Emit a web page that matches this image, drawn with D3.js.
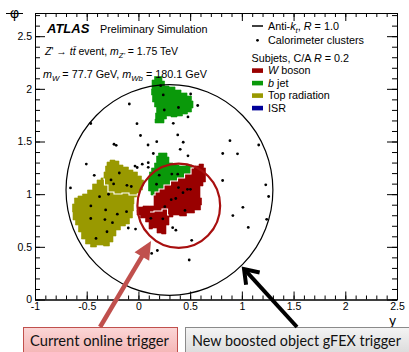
<!DOCTYPE html>
<html>
<head>
<meta charset="utf-8">
<script src="https://cdn.jsdelivr.net/npm/d3@7"></script>
<style>
  body { margin: 0; background: #fff; }
  svg { display: block; font-family: "Liberation Sans", Arial, sans-serif; }
</style>
</head>
<body>
<div id="chart"></div>
<script>
// axis ticks
const xTicks = [-1, -0.5, 0, 0.5, 1, 1.5, 2, 2.5];
const yTicks = [0, 0.5, 1, 1.5, 2, 2.5];

// calorimeter clusters [y, phi]
const clusters = [
  [-0.088, 1.856], [-0.461, 1.671], [-0.014, 1.669], [0.020, 1.557], [0.177, 1.498],
  [-0.236, 1.474], [-0.215, 1.464], [0.093, 1.467], [0.144, 1.386], [-0.504, 1.286],
  [-0.033, 1.267], [-0.012, 1.253], [0.037, 1.285], [0.095, 1.299], [0.095, 1.255],
  [-0.427, 1.179], [-0.657, 1.059], [-0.185, 1.201], [-0.265, 1.135], [-0.240, 1.097],
  [-0.111, 1.084], [-0.069, 1.073], [-0.289, 0.999], [-0.376, 0.976], [-0.460, 0.888],
  [-0.317, 0.850], [-0.204, 0.810], [-0.115, 0.834], [-0.461, 0.769], [-0.324, 0.759],
  [-0.251, 0.729], [-0.304, 0.643], [-0.410, 0.580], [-0.098, 0.679], [-0.028, 0.669],
  [0.201, 1.180], [0.323, 1.191], [0.380, 1.190], [0.175, 1.094],
  [0.387, 1.063], [0.474, 1.046], [0.503, 1.046], [0.431, 1.014], [0.317, 0.948],
  [0.361, 0.959], [0.255, 0.881], [0.450, 0.846], [0.120, 0.771], [0.236, 0.766],
  [0.331, 0.682], [0.362, 0.658], [0.515, 0.562],
  [0.215, 2.030], [0.240, 1.942], [0.505, 1.951], [0.573, 1.842], [0.250, 1.799],
  [0.387, 1.823], [0.337, 1.673], [0.380, 1.562], [0.479, 1.733], [0.433, 1.493],
  [0.404, 1.426], [0.479, 1.364],
  [0.885, 1.508], [1.163, 1.467], [0.815, 1.386], [0.958, 1.383], [0.814, 1.130],
  [1.231, 1.089], [1.259, 0.978], [1.010, 0.875], [0.913, 0.797], [1.240, 0.761],
  [1.062, 0.684],
  [0.128, 0.437], [0.183, 0.465], [0.491, 0.375]
];

// subjet outlines [y, phi]
const bjetTop = [
  [0.141, 2.084], [0.170, 2.117], [0.218, 2.117], [0.238, 2.074], [0.267, 2.027],
  [0.325, 2.018], [0.383, 1.989], [0.441, 1.961], [0.499, 1.932], [0.528, 1.885],
  [0.528, 1.818], [0.499, 1.780], [0.450, 1.761], [0.402, 1.742], [0.344, 1.733],
  [0.286, 1.742], [0.257, 1.714], [0.238, 1.676], [0.170, 1.676], [0.151, 1.714],
  [0.180, 1.771], [0.170, 1.828], [0.141, 1.875], [0.131, 1.941], [0.122, 1.998]
];
const bjetMid = [
  [0.180, 1.362], [0.208, 1.391], [0.267, 1.391], [0.286, 1.353], [0.305, 1.296],
  [0.363, 1.277], [0.421, 1.268], [0.499, 1.277], [0.537, 1.249],
  [0.480, 1.192], [0.412, 1.154], [0.344, 1.125], [0.276, 1.087], [0.218, 1.049],
  [0.180, 1.021], [0.141, 0.992],
  [0.102, 1.030], [0.093, 1.097], [0.102, 1.154], [0.112, 1.211], [0.141, 1.249],
  [0.170, 1.296]
];
const wBoson = [
  [0.537, 1.249], [0.480, 1.192], [0.412, 1.154], [0.344, 1.125], [0.276, 1.087],
  [0.218, 1.049], [0.180, 1.021], [0.141, 0.992],
  [0.160, 0.945], [0.141, 0.888], [0.073, 0.888], [0.015, 0.878], [-0.023, 0.850],
  [-0.004, 0.802], [0.044, 0.774], [0.093, 0.736], [0.112, 0.669], [0.160, 0.679],
  [0.199, 0.631], [0.247, 0.622], [0.286, 0.707], [0.305, 0.783], [0.363, 0.802],
  [0.431, 0.793], [0.499, 0.821], [0.586, 0.850], [0.615, 0.897], [0.605, 0.964],
  [0.586, 1.021], [0.605, 1.078], [0.644, 1.116], [0.653, 1.182], [0.644, 1.249],
  [0.615, 1.286], [0.557, 1.268]
];
const topRad = [
  [-0.294, 1.305], [-0.256, 1.324], [-0.198, 1.315], [-0.178, 1.277], [-0.120, 1.258],
  [-0.072, 1.230], [-0.033, 1.211], [0.015, 1.173], [0.044, 1.135], [0.054, 1.078],
  [0.025, 1.040], [-0.004, 1.011], [-0.033, 0.973], [-0.053, 0.907], [-0.043, 0.840],
  [-0.072, 0.774], [-0.101, 0.717], [-0.149, 0.698], [-0.198, 0.660], [-0.236, 0.603],
  [-0.256, 0.546], [-0.304, 0.508], [-0.372, 0.517], [-0.439, 0.498], [-0.488, 0.527],
  [-0.536, 0.574], [-0.565, 0.641], [-0.594, 0.707], [-0.623, 0.755], [-0.642, 0.831],
  [-0.633, 0.907], [-0.604, 0.964], [-0.565, 0.983], [-0.517, 1.002], [-0.468, 1.040],
  [-0.420, 1.097], [-0.381, 1.135], [-0.343, 1.154], [-0.323, 1.211], [-0.314, 1.267]
];
// white borders between neighbouring subjets
const borders = [
  [[0.537, 1.249], [0.480, 1.192], [0.412, 1.154], [0.344, 1.125], [0.276, 1.087],
   [0.218, 1.049], [0.180, 1.021], [0.141, 0.992]],
  [[-0.343, 1.144], [-0.314, 1.087], [-0.275, 1.021], [-0.198, 1.002], [-0.120, 1.011],
   [-0.062, 0.992], [-0.014, 0.992]],
  [[0.112, 0.831], [0.189, 0.840], [0.267, 0.859], [0.296, 0.802]]
];

// jets: centre [y, phi], radius
const fatJet = { c: [0.30, 1.04], r: 1.0 };
const l1Jet = { c: [0.39, 0.89], r: 0.4 };

// arrow tails / tips [y, phi]
const redArrow = [[-0.371, -0.261], [0.122, 0.555]];
const blackArrow = [[1.533, -0.261], [1.021, 0.290]];

const colW = '#990000', colB = '#0a990a', colTop = '#999900', colISR = '#000099';

const W = 409, H = 352;
const svg = d3.select('#chart').append('svg').attr('width', W).attr('height', H);

const x = d3.scaleLinear().domain([-1, 2.5]).range([35, 397]);
const y = d3.scaleLinear().domain([0, 2.72]).range([299.5, 13]);

// cell clusters have ragged, pixel-like edges -> step curve
const shape = d3.line().x(d => x(d[0])).y(d => y(d[1])).curve(d3.curveStep);
const closed = pts => shape(pts.concat([pts[0]])) + 'Z';

const plot = svg.append('g');
[[topRad, colTop], [bjetTop, colB], [bjetMid, colB], [wBoson, colW]].forEach(([pts, c]) => {
  plot.append('path').attr('d', closed(pts)).attr('fill', c)
    .attr('stroke', c).attr('stroke-width', 0.6);
});
borders.forEach(b => {
  plot.append('path').attr('d', shape(b)).attr('fill', 'none')
    .attr('stroke', '#fff').attr('stroke-width', 1.1);
});

plot.append('ellipse')
  .attr('cx', x(fatJet.c[0])).attr('cy', y(fatJet.c[1]))
  .attr('rx', x(fatJet.r) - x(0)).attr('ry', y(0) - y(fatJet.r))
  .attr('fill', 'none').attr('stroke', '#000').attr('stroke-width', 1.2);
plot.append('ellipse')
  .attr('cx', x(l1Jet.c[0])).attr('cy', y(l1Jet.c[1]))
  .attr('rx', x(l1Jet.r) - x(0)).attr('ry', y(0) - y(l1Jet.r))
  .attr('fill', 'none').attr('stroke', '#a80f0f').attr('stroke-width', 2.2);

plot.selectAll('circle.cl').data(clusters).enter().append('circle')
  .attr('class', 'cl')
  .attr('cx', d => x(d[0])).attr('cy', d => y(d[1])).attr('r', 1.4).attr('fill', '#000');

// axes, ROOT style: ticks pointing inwards on all four sides
const fmt = d => String(d);
const xMinor = d3.range(-10, 26).map(i => i / 10);
const yMinor = d3.range(0, 28).map(i => i / 10);

function styleAxis(g) {
  g.selectAll('path.domain').attr('stroke', '#000');
  g.selectAll('line').attr('stroke', '#000');
  g.selectAll('text').attr('fill', '#000')
    .style('font-family', '"Liberation Sans", Arial, sans-serif').style('font-size', '10.5px');
}
const ax = svg.append('g');
ax.append('g').attr('transform', `translate(0,${y(0)})`)
  .call(d3.axisBottom(x).tickValues(xMinor).tickSizeInner(-4).tickSizeOuter(0).tickFormat(''))
  .call(styleAxis);
ax.append('g').attr('transform', `translate(0,${y(0)})`)
  .call(d3.axisBottom(x).tickValues(xTicks).tickSizeInner(-8).tickSizeOuter(0).tickPadding(3).tickFormat(fmt))
  .call(styleAxis);
ax.append('g').attr('transform', `translate(0,${y(2.72)})`)
  .call(d3.axisTop(x).tickValues(xMinor).tickSizeInner(-4).tickSizeOuter(0).tickFormat(''))
  .call(styleAxis);
ax.append('g').attr('transform', `translate(0,${y(2.72)})`)
  .call(d3.axisTop(x).tickValues(xTicks).tickSizeInner(-8).tickSizeOuter(0).tickFormat(''))
  .call(styleAxis);
ax.append('g').attr('transform', `translate(${x(-1)},0)`)
  .call(d3.axisLeft(y).tickValues(yMinor).tickSizeInner(-5).tickSizeOuter(0).tickFormat(''))
  .call(styleAxis);
ax.append('g').attr('transform', `translate(${x(-1)},0)`)
  .call(d3.axisLeft(y).tickValues(yTicks).tickSizeInner(-10).tickSizeOuter(0).tickPadding(3).tickFormat(fmt))
  .call(styleAxis);
ax.append('g').attr('transform', `translate(${x(2.5)},0)`)
  .call(d3.axisRight(y).tickValues(yMinor).tickSizeInner(-5).tickSizeOuter(0).tickFormat(''))
  .call(styleAxis);
ax.append('g').attr('transform', `translate(${x(2.5)},0)`)
  .call(d3.axisRight(y).tickValues(yTicks).tickSizeInner(-10).tickSizeOuter(0).tickFormat(''))
  .call(styleAxis);

// axis titles
svg.append('text').attr('x', 14.5).attr('y', 18).attr('text-anchor', 'middle')
  .style('font-size', '14px').text('φ');
svg.append('line').attr('x1', 6).attr('x2', 23).attr('y1', 13.5).attr('y2', 13.5)
  .attr('stroke', '#000').attr('stroke-width', 1);
svg.append('text').attr('x', 396).attr('y', 324.5).attr('text-anchor', 'end')
  .style('font-size', '13.5px').text('y');

// rich text helper: segments with italic / subscript
function rich(parent, x0, y0, size, segs) {
  const t = parent.append('text').attr('x', x0).attr('y', y0).style('font-size', size + 'px');
  let shift = 0;
  segs.forEach(s => {
    const target = s.sub ? size * 0.3 : 0;
    const sp = t.append('tspan').text(s.t).attr('dy', target - shift);
    shift = target;
    if (s.sub) sp.style('font-size', (size * 0.72) + 'px');
    if (s.i) sp.style('font-style', 'italic');
    if (s.b) sp.style('font-weight', 'bold');
  });
  return t;
}

const lab = svg.append('g');
rich(lab, 47, 32.5, 13, [{ t: 'ATLAS', i: 1, b: 1 }]);
rich(lab, 100, 32.5, 10.8, [{ t: 'Preliminary Simulation' }]);
rich(lab, 45, 55, 10.5, [{ t: 'Z', i: 1 }, { t: '\' → ' }, { t: 'tt\u0304', i: 1 },
  { t: ' event, ' }, { t: 'm', i: 1 }, { t: 'Z\'', i: 1, sub: 1 }, { t: ' = 1.75 TeV' }]);
rich(lab, 43, 77.5, 10.8, [{ t: 'm', i: 1 }, { t: 'W', i: 1, sub: 1 }, { t: ' = 77.7 GeV, ' },
  { t: 'm', i: 1 }, { t: 'Wb', i: 1, sub: 1 }, { t: ' = 180.1 GeV' }]);

// legend
const leg = svg.append('g');
leg.append('line').attr('x1', 252).attr('x2', 263).attr('y1', 26).attr('y2', 26)
  .attr('stroke', '#000').attr('stroke-width', 1.5);
rich(leg, 268, 30, 10.8, [{ t: 'Anti-' }, { t: 'k', i: 1 }, { t: 't', i: 1, sub: 1 },
  { t: ', ' }, { t: 'R', i: 1 }, { t: ' = 1.0' }]);
leg.append('circle').attr('cx', 257.5).attr('cy', 40.3).attr('r', 1.4).attr('fill', '#000');
rich(leg, 268, 44, 10.8, [{ t: 'Calorimeter clusters' }]);
rich(leg, 251.5, 62, 10.8, [{ t: 'Subjets, C/A ' }, { t: 'R', i: 1 }, { t: ' = 0.2' }]);
const boxes = [
  [colW, [{ t: 'W', i: 1 }, { t: ' boson' }]],
  [colB, [{ t: 'b', i: 1 }, { t: ' jet' }]],
  [colTop, [{ t: 'Top radiation' }]],
  [colISR, [{ t: 'ISR' }]]
];
boxes.forEach(([c, segs], i) => {
  const by = 74.3 + i * 12.5;
  leg.append('rect').attr('x', 252).attr('y', by - 6).attr('width', 11).attr('height', 4.6).attr('fill', c);
  rich(leg, 268, by, 10.8, segs);
});

// call-out boxes and arrows
const defs = svg.append('defs');
const gp = defs.append('linearGradient').attr('id', 'gpink').attr('x1', 0).attr('y1', 0).attr('x2', 0).attr('y2', 1);
gp.append('stop').attr('offset', '0%').attr('stop-color', '#fbd6d6');
gp.append('stop').attr('offset', '100%').attr('stop-color', '#f3aeae');
const gg = defs.append('linearGradient').attr('id', 'ggrey').attr('x1', 0).attr('y1', 0).attr('x2', 0).attr('y2', 1);
gg.append('stop').attr('offset', '0%').attr('stop-color', '#f4f4f4');
gg.append('stop').attr('offset', '100%').attr('stop-color', '#d6d6d6');

const ann = svg.append('g');
ann.append('rect').attr('x', 23.5).attr('y', 327.5).attr('width', 154).attr('height', 32)
  .attr('fill', 'url(#gpink)').attr('stroke', '#c0504d').attr('stroke-width', 1);
ann.append('rect').attr('x', 185.5).attr('y', 327.5).attr('width', 230).attr('height', 32)
  .attr('fill', 'url(#ggrey)').attr('stroke', '#8a8a8a').attr('stroke-width', 1);

function fitText(t, width) {
  const w = t.node().getComputedTextLength();
  const fs = parseFloat(t.style('font-size'));
  t.style('font-size', (fs * width / w) + 'px');
}
const t1 = ann.append('text').attr('x', 30).attr('y', 345.5)
  .style('font-family', 'Lato, "Open Sans", sans-serif').style('font-size', '15px').attr('fill', '#111')
  .text('Current online trigger');
fitText(t1, 139);
const t2 = ann.append('text').attr('x', 192).attr('y', 345.5)
  .style('font-family', 'Lato, "Open Sans", sans-serif').style('font-size', '15px').attr('fill', '#111')
  .text('New boosted object gFEX trigger');
fitText(t2, 209);

function arrowGeom(a) {
  const s = [x(a[0][0]), y(a[0][1])], t = [x(a[1][0]), y(a[1][1])];
  const dx = t[0] - s[0], dy = t[1] - s[1], L = Math.hypot(dx, dy);
  return { s, t, u: [dx / L, dy / L] };
}
// red arrow with filled triangular head
{
  const { s, t, u } = arrowGeom(redArrow);
  const hl = 18, hw = 8.5;
  const b = [t[0] - hl * u[0], t[1] - hl * u[1]];
  const n = [-u[1], u[0]];
  ann.append('line').attr('x1', s[0]).attr('y1', s[1]).attr('x2', b[0] + 2 * u[0]).attr('y2', b[1] + 2 * u[1])
    .attr('stroke', '#c0504d').attr('stroke-width', 4.5);
  ann.append('path')
    .attr('d', `M${t[0]},${t[1]}L${b[0] + hw * n[0]},${b[1] + hw * n[1]}L${b[0] - hw * n[0]},${b[1] - hw * n[1]}Z`)
    .attr('fill', '#c0504d');
}
// black arrow with open chevron head
{
  const { s, t, u } = arrowGeom(blackArrow);
  const back = [-u[0], -u[1]], a = 35 * Math.PI / 180, hl = 16;
  const rot = (v, ang) => [v[0] * Math.cos(ang) - v[1] * Math.sin(ang), v[0] * Math.sin(ang) + v[1] * Math.cos(ang)];
  const r1 = rot(back, a), r2 = rot(back, -a);
  ann.append('line').attr('x1', s[0]).attr('y1', s[1]).attr('x2', t[0] + 2 * back[0]).attr('y2', t[1] + 2 * back[1])
    .attr('stroke', '#000').attr('stroke-width', 4);
  ann.append('path')
    .attr('d', `M${t[0] + hl * r1[0]},${t[1] + hl * r1[1]}L${t[0]},${t[1]}L${t[0] + hl * r2[0]},${t[1] + hl * r2[1]}`)
    .attr('fill', 'none').attr('stroke', '#000').attr('stroke-width', 4).attr('stroke-linejoin', 'miter');
}
</script>
</body>
</html>
